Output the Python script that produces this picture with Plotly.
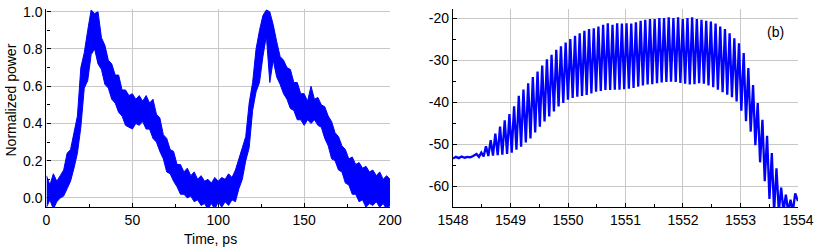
import plotly.graph_objects as go

# ---------------- (a) pulse trace: band edges read every 2 ps ----------------
time_ps = list(range(0, 201, 2))
power_upper = [0.12, 0.07, 0.13, 0.09, 0.12, 0.15, 0.24, 0.26, 0.35, 0.44,
               0.70, 0.78, 0.90, 1.01, 0.99, 1.00, 0.86, 0.82, 0.74, 0.72,
               0.66, 0.66, 0.58, 0.58, 0.55, 0.56, 0.53, 0.55, 0.52, 0.55,
               0.51, 0.53, 0.45, 0.43, 0.34, 0.32, 0.26, 0.25, 0.18, 0.18,
               0.14, 0.16, 0.12, 0.14, 0.10, 0.12, 0.09, 0.10, 0.08, 0.11,
               0.09, 0.11, 0.10, 0.13, 0.11, 0.15, 0.21, 0.27, 0.33, 0.51,
               0.62, 0.80, 0.90, 0.98, 1.01, 1.00, 0.93, 0.84, 0.76, 0.74,
               0.70, 0.69, 0.62, 0.62, 0.56, 0.56, 0.52, 0.60, 0.53, 0.54,
               0.50, 0.49, 0.44, 0.41, 0.35, 0.33, 0.28, 0.26, 0.21, 0.22,
               0.18, 0.19, 0.16, 0.17, 0.14, 0.15, 0.12, 0.14, 0.10, 0.12,
               0.10]
power_lower = [-0.05, -0.01, -0.06, -0.02, 0.00, 0.01, 0.05, 0.09, 0.16, 0.24,
               0.38, 0.59, 0.63, 0.77, 0.80, 0.72, 0.69, 0.61, 0.59, 0.53,
               0.51, 0.46, 0.44, 0.39, 0.38, 0.37, 0.40, 0.39, 0.41, 0.37,
               0.37, 0.32, 0.30, 0.25, 0.21, 0.14, 0.13, 0.09, 0.06, 0.02,
               0.02, 0.00, 0.01, -0.02, -0.01, -0.04, -0.03, -0.06, -0.03, -0.06,
               -0.02, -0.05, -0.02, -0.04, -0.01, -0.02, 0.05, 0.10, 0.20, 0.27,
               0.47, 0.57, 0.62, 0.76, 0.87, 0.62, 0.74, 0.65, 0.61, 0.56,
               0.53, 0.48, 0.47, 0.42, 0.42, 0.39, 0.42, 0.40, 0.42, 0.39,
               0.38, 0.32, 0.28, 0.21, 0.20, 0.15, 0.14, 0.08, 0.07, 0.02,
               0.02, -0.02, -0.01, -0.05, -0.03, -0.04, -0.02, -0.05, -0.03, -0.06,
               -0.04]

# ---------------- (b) spectrum: baseline, fringe peaks and troughs ----------------
base_wl = [1548.00, 1548.05, 1548.10, 1548.15, 1548.20, 1548.25, 1548.30, 1548.35]
base_db = [-53.4, -53.0, -53.3, -52.9, -53.2, -53.0, -53.1, -52.8]

peak_wl = [1548.410, 1548.492, 1548.573, 1548.655, 1548.736, 1548.818, 1548.899, 1548.981,
           1549.062, 1549.144, 1549.225, 1549.307, 1549.388, 1549.470, 1549.551, 1549.633,
           1549.714, 1549.796, 1549.877, 1549.959, 1550.040, 1550.122, 1550.203, 1550.285,
           1550.366, 1550.448, 1550.529, 1550.611, 1550.692, 1550.774, 1550.855, 1550.937,
           1551.018, 1551.100, 1551.181, 1551.263, 1551.344, 1551.426, 1551.507, 1551.589,
           1551.670, 1551.752, 1551.833, 1551.915, 1551.996, 1552.078, 1552.159, 1552.241,
           1552.322, 1552.404, 1552.485, 1552.567, 1552.648, 1552.730, 1552.811, 1552.893,
           1552.974, 1553.056, 1553.137, 1553.219, 1553.300, 1553.382, 1553.463, 1553.545,
           1553.626, 1553.708, 1553.789, 1553.871, 1553.952]
peak_db = [-52.3, -52.0, -50.5, -49.0, -47.5, -45.8, -44.3, -42.8,
           -41.0, -38.5, -37.0, -35.5, -34.0, -32.7, -31.3, -29.8,
           -28.7, -27.5, -26.7, -25.8, -25.0, -24.2, -23.6, -23.0,
           -22.6, -22.4, -22.0, -21.6, -21.2, -21.6, -21.2, -21.3,
           -21.2, -21.3, -21.0, -20.6, -20.4, -20.2, -20.2, -20.0,
           -20.0, -19.8, -20.0, -19.8, -20.2, -20.0, -19.8, -20.2,
           -20.4, -20.6, -20.8, -21.3, -22.0, -22.6, -23.6, -24.8,
           -26.0, -28.3, -31.9, -35.9, -40.2, -44.2, -48.0, -52.1,
           -55.7, -60.3, -62.0, -63.2, -61.7]

trough_wl = [1548.451, 1548.532, 1548.614, 1548.695, 1548.777, 1548.858, 1548.940, 1549.021,
             1549.103, 1549.184, 1549.266, 1549.347, 1549.429, 1549.510, 1549.592, 1549.673,
             1549.755, 1549.836, 1549.918, 1549.999, 1550.081, 1550.162, 1550.244, 1550.325,
             1550.407, 1550.488, 1550.570, 1550.651, 1550.733, 1550.814, 1550.896, 1550.977,
             1551.059, 1551.140, 1551.222, 1551.303, 1551.385, 1551.466, 1551.548, 1551.629,
             1551.711, 1551.792, 1551.874, 1551.955, 1552.037, 1552.118, 1552.200, 1552.281,
             1552.363, 1552.444, 1552.526, 1552.607, 1552.689, 1552.770, 1552.852, 1552.933,
             1553.015, 1553.096, 1553.178, 1553.259, 1553.341, 1553.422, 1553.504, 1553.585,
             1553.667, 1553.748, 1553.830, 1553.911]
trough_db = [-53.0, -52.9, -52.8, -52.7, -52.6, -52.5, -52.3, -52.0,
             -51.3, -50.6, -49.6, -48.6, -47.2, -45.8, -44.6, -43.4,
             -42.2, -41.0, -40.2, -39.4, -39.0, -38.7, -38.5, -38.3,
             -37.9, -37.5, -37.3, -37.1, -37.1, -37.0, -37.0, -36.9,
             -36.8, -36.6, -36.3, -36.0, -35.8, -35.7, -35.5, -35.3,
             -35.2, -35.1, -35.2, -35.4, -35.6, -35.8, -35.7, -35.5,
             -35.6, -36.0, -36.4, -37.0, -37.6, -38.2, -38.8, -39.8,
             -42.0, -44.5, -47.0, -50.2, -54.3, -58.8, -63.0, -66.0,
             -66.0, -66.0, -66.0, -66.0]
tail_wl = [1554.0]
tail_db = [-63.5]

# tick labels
t_ticks = [0, 50, 100, 150, 200]
p_ticks = [0.0, 0.2, 0.4, 0.6, 0.8, 1.0]
p_ticklabels = ["0.0", "0.2", "0.4", "0.6", "0.8", "1.0"]
wl_ticks = [1548, 1549, 1550, 1551, 1552, 1553, 1554]
db_ticks = [-60, -50, -40, -30, -20]
db_ticklabels = ["-60", "-50", "-40", "-30", "-20"]

# interleave peaks and troughs into one trace
spec_wl = list(base_wl)
spec_db = list(base_db)
for i in range(len(peak_wl)):
    spec_wl.append(peak_wl[i]); spec_db.append(peak_db[i])
    if i < len(trough_wl):
        spec_wl.append(trough_wl[i]); spec_db.append(trough_db[i])
spec_wl += tail_wl
spec_db += tail_db

BLUE = "#0000FF"
FONT = "Liberation Sans, Arial, sans-serif"
GRID = "#c8c8c8"

fig = go.Figure()
fig.add_trace(go.Scatter(
    x=time_ps + time_ps[::-1], y=power_upper + power_lower[::-1],
    fill="toself", fillcolor=BLUE, mode="lines",
    line=dict(color=BLUE, width=1.0, simplify=False), xaxis="x", yaxis="y", showlegend=False))
fig.add_trace(go.Scatter(
    x=spec_wl, y=spec_db, mode="lines",
    line=dict(color=BLUE, width=2.3, simplify=False), xaxis="x2", yaxis="y2", showlegend=False))

ax_common = dict(showline=True, linecolor="black", linewidth=1.3, ticks="inside",
                 ticklen=4, tickwidth=1, tickcolor="black", showgrid=True,
                 gridcolor=GRID, gridwidth=1, zeroline=False, automargin=False,
                 tickfont=dict(family=FONT, size=14, color="black"))

fig.update_layout(
    width=817, height=252, margin=dict(l=0, r=0, t=0, b=0, autoexpand=False),
    paper_bgcolor="white", plot_bgcolor="white",
    font=dict(family=FONT, size=14, color="black"),
    xaxis=dict(domain=[0.0569, 0.4774], range=[0, 200], tickvals=t_ticks,
               minor=dict(dtick=25, ticks="inside", ticklen=3, tickcolor="black", showgrid=False),
               anchor="y", **ax_common),
    yaxis=dict(domain=[0.1774, 0.963], range=[-0.05, 1.013],
               tickvals=p_ticks, ticktext=p_ticklabels,
               minor=dict(dtick=0.1, tick0=0, ticks="inside", ticklen=3, tickcolor="black", showgrid=False),
               anchor="x", **ax_common),
    xaxis2=dict(domain=[0.5545, 0.9767], range=[1548, 1554], tickvals=wl_ticks,
                minor=dict(dtick=0.5, tick0=1548, ticks="inside", ticklen=3, tickcolor="black", showgrid=False),
                anchor="y2", **ax_common),
    yaxis2=dict(domain=[0.1774, 0.963], range=[-65, -17.9],
                tickvals=db_ticks, ticktext=db_ticklabels,
                minor=dict(dtick=5, tick0=-65, ticks="inside", ticklen=3, tickcolor="black", showgrid=False),
                anchor="x2", **ax_common),
    annotations=[
        dict(text="Normalized power", x=10 / 817, y=1 - 100.5 / 252, xref="paper", yref="paper",
             textangle=-90, showarrow=False, font=dict(family=FONT, size=14),
             xanchor="center", yanchor="middle"),
        dict(text="Time, ps", x=210 / 817, y=1 - 239 / 252, xref="paper", yref="paper",
             showarrow=False, font=dict(family=FONT, size=14),
             xanchor="center", yanchor="middle"),
        dict(text="(b)", x=775 / 817, y=1 - 32 / 252, xref="paper", yref="paper",
             showarrow=False, font=dict(family=FONT, size=14),
             xanchor="center", yanchor="middle"),
    ],
)

fig.write_html("out.html", config={"displayModeBar": False},
               post_script="document.body.style.margin='0';document.body.style.overflow='hidden';")
